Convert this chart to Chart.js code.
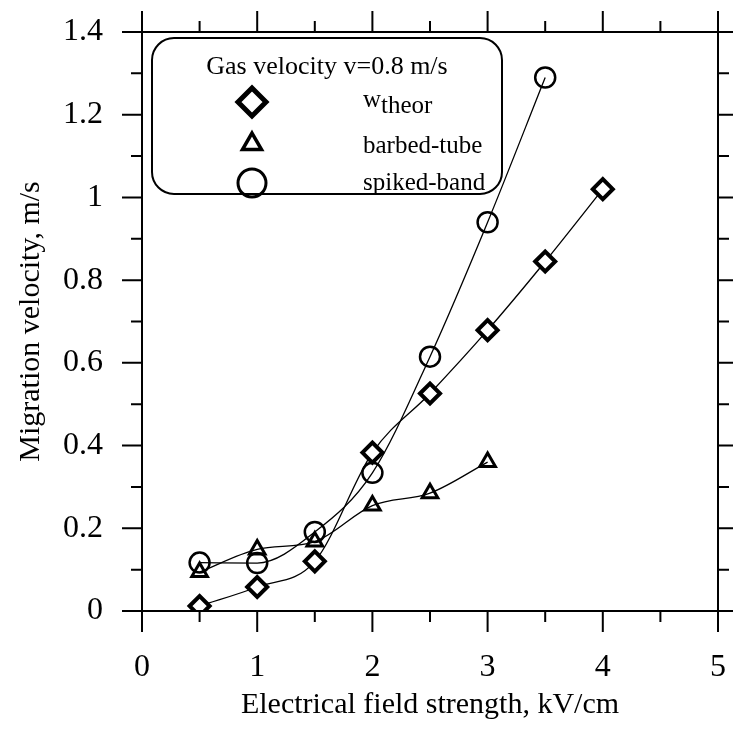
<!DOCTYPE html>
<html>
<head>
<meta charset="utf-8">
<script src="https://cdn.jsdelivr.net/npm/chart.js@4.4.0/dist/chart.umd.min.js"></script>
<style>
  html, body { margin: 0; padding: 0; background: #fff; }
</style>
</head>
<body>
<canvas id="chart" width="733" height="737"></canvas>
<script>
// data (kV/cm -> m/s)
const fieldTheor = [0.5, 1, 1.5, 2, 2.5, 3, 3.5, 4];
const wTheor = [0.012, 0.058, 0.12, 0.383, 0.526, 0.679, 0.845, 1.02];
const fieldBarbed = [0.5, 1, 1.5, 2, 2.5, 3];
const barbedTube = [0.094, 0.149, 0.168, 0.255, 0.285, 0.36];
const fieldSpiked = [0.5, 1, 1.5, 2, 2.5, 3, 3.5];
const spikedBand = [0.117, 0.116, 0.191, 0.334, 0.615, 0.94, 1.29];

const xMajorTicks = [0, 1, 2, 3, 4, 5];
const xMinorTicks = [0.5, 1.5, 2.5, 3.5, 4.5];
const yMajorTicks = [0, 0.2, 0.4, 0.6, 0.8, 1, 1.2, 1.4];
const yMinorTicks = [0.1, 0.3, 0.5, 0.7, 0.9, 1.1, 1.3];

const legendTitle = 'Gas velocity v=0.8 m/s';
const FONT = '"Liberation Serif", "Times New Roman", serif';

function pts(xs, ys) { return xs.map((x, i) => ({ x: x, y: ys[i] })); }
function fmt(v) { return String(Number(v.toFixed(1))); }

// frame on all four sides with outward ticks
const framePlugin = {
  id: 'frame',
  afterDraw(chart) {
    const ctx = chart.ctx, a = chart.chartArea;
    const xs = chart.scales.x, ys = chart.scales.y;
    ctx.save();
    ctx.strokeStyle = '#000';
    ctx.lineWidth = 2;
    ctx.strokeRect(a.left, a.top, a.right - a.left, a.bottom - a.top);
    ctx.beginPath();
    const tick = (v, len, horiz) => {
      if (horiz) {
        const px = xs.getPixelForValue(v);
        ctx.moveTo(px, a.bottom); ctx.lineTo(px, a.bottom + len);
        ctx.moveTo(px, a.top); ctx.lineTo(px, a.top - len);
      } else {
        const py = ys.getPixelForValue(v);
        ctx.moveTo(a.left, py); ctx.lineTo(a.left - len, py);
        ctx.moveTo(a.right, py); ctx.lineTo(a.right + len, py);
      }
    };
    xMajorTicks.forEach(v => tick(v, 21, true));
    xMinorTicks.forEach(v => tick(v, 11, true));
    yMajorTicks.forEach(v => tick(v, 20, false));
    yMinorTicks.forEach(v => tick(v, 11, false));
    ctx.stroke();
    ctx.restore();
  }
};

// rounded legend box in the upper left
const legendBox = {
  id: 'legendBox',
  afterDraw(chart) {
    const ctx = chart.ctx;
    ctx.save();
    ctx.beginPath();
    ctx.roundRect(152, 38, 350, 156, 22);
    ctx.fillStyle = '#fff';
    ctx.fill();
    ctx.lineWidth = 2;
    ctx.strokeStyle = '#000';
    ctx.stroke();

    ctx.fillStyle = '#000';
    ctx.textBaseline = 'alphabetic';
    ctx.font = '26px ' + FONT;
    ctx.textAlign = 'center';
    ctx.fillText(legendTitle, 327, 74);

    const ds = chart.data.datasets;
    const rows = [
      { y: 102, ds: ds[0], r: 14, bw: 5 },
      { y: 144, ds: ds[1], r: 11, bw: 3.5 },
      { y: 183, ds: ds[2], r: 14, bw: 3 }
    ];
    rows.forEach(row => {
      ctx.fillStyle = row.ds.pointBackgroundColor;
      ctx.strokeStyle = '#000';
      ctx.lineWidth = row.bw;
      Chart.helpers.drawPoint(ctx, { pointStyle: row.ds.pointStyle, radius: row.r, rotation: 0, borderWidth: row.bw }, 252, row.y);
    });

    ctx.fillStyle = '#000';
    ctx.textAlign = 'left';
    ctx.font = '25px ' + FONT;
    ctx.fillText('w', 363, 107);
    const ww = ctx.measureText('w').width;
    ctx.fillText('theor', 363 + ww, 113);
    ctx.fillText('barbed-tube', 363, 153);
    ctx.fillText('spiked-band', 363, 190);
    ctx.restore();
  }
};

const common = {
  borderColor: '#000',
  borderWidth: 1.3,
  pointBorderColor: '#000',
  cubicInterpolationMode: 'monotone',
  fill: false
};

new Chart(document.getElementById('chart'), {
  type: 'line',
  data: {
    datasets: [
      Object.assign({}, common, {
        label: 'w theor',
        data: pts(fieldTheor, wTheor),
        pointStyle: 'rectRot', pointRadius: 10, pointBorderWidth: 4,
        pointBackgroundColor: '#fff'
      }),
      Object.assign({}, common, {
        label: 'barbed-tube',
        data: pts(fieldBarbed, barbedTube),
        pointStyle: 'triangle', pointRadius: 9, pointBorderWidth: 3,
        pointBackgroundColor: 'rgba(255,255,255,0)'
      }),
      Object.assign({}, common, {
        label: 'spiked-band',
        data: pts(fieldSpiked, spikedBand),
        pointStyle: 'circle', pointRadius: 10, pointBorderWidth: 2.5,
        pointBackgroundColor: 'rgba(255,255,255,0)'
      })
    ]
  },
  options: {
    responsive: false,
    animation: false,
    layout: { padding: { top: 32, right: 15, left: 0, bottom: 0 } },
    plugins: { legend: { display: false }, tooltip: { enabled: false } },
    scales: {
      x: {
        type: 'linear', min: 0, max: 5,
        afterBuildTicks: s => { s.ticks = xMajorTicks.map(v => ({ value: v })); },
        afterFit: s => { s.height = 126; s.paddingLeft = 0; s.paddingRight = 0; },
        grid: { display: false, drawTicks: false },
        border: { display: false },
        ticks: {
          color: '#000', padding: 37, maxRotation: 0,
          font: { family: FONT, size: 32 },
          callback: v => fmt(v)
        },
        title: {
          display: true, text: 'Electrical field strength, kV/cm', color: '#000',
          font: { family: FONT, size: 30 }, padding: { top: 0, bottom: 14 }
        }
      },
      y: {
        type: 'linear', min: 0, max: 1.4,
        afterBuildTicks: s => { s.ticks = yMajorTicks.map(v => ({ value: v })); },
        afterFit: s => { s.width = 142; s.paddingTop = 0; s.paddingBottom = 0; },
        grid: { display: false, drawTicks: false },
        border: { display: false },
        ticks: {
          color: '#000', padding: 39,
          font: { family: FONT, size: 32 },
          callback: v => fmt(v)
        },
        title: {
          display: true, text: 'Migration velocity, m/s', color: '#000',
          font: { family: FONT, size: 30 }, padding: { top: 13, bottom: 0 }
        }
      }
    }
  },
  plugins: [framePlugin, legendBox]
});
</script>
</body>
</html>
